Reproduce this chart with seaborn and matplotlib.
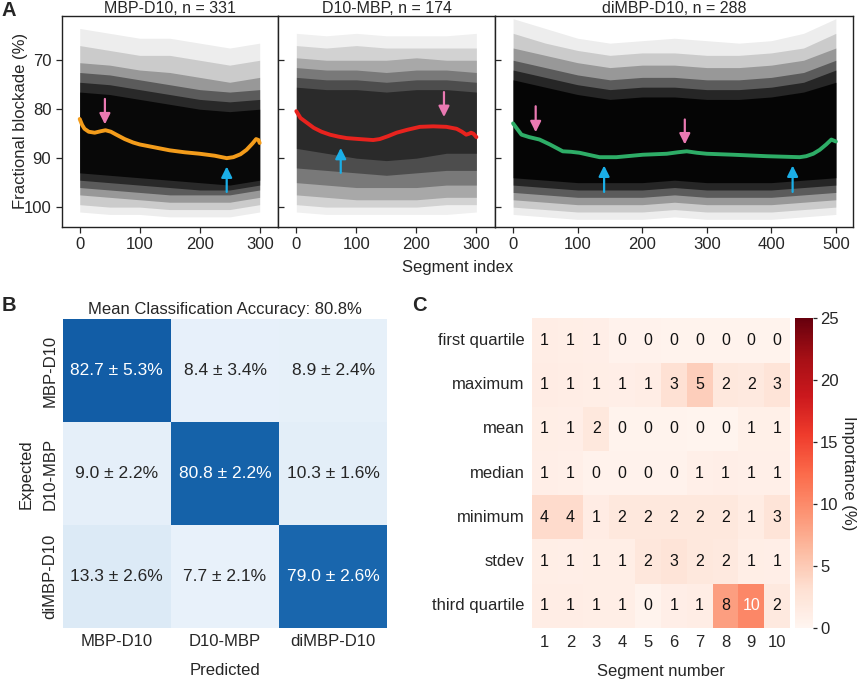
import numpy as np
import pandas as pd
import matplotlib
matplotlib.use("Agg")
import matplotlib.pyplot as plt
import seaborn as sns

# ---------------- data ----------------
# Panel A: trace-density envelopes (Fractional blockade %), outermost -> core,
# read from the picture at the x positions below
p1_x = [0, 50, 100, 150, 200, 250, 300]
p1_band_tops = [
    [63.5, 64.5, 65.5, 65.5, 66.5, 67.5, 66.5],
    [67, 68, 69, 69, 70, 71, 70],
    [70.5, 71, 72, 72.5, 73.5, 74.5, 73.5],
    [72.5, 73, 74, 75, 76, 76.5, 76],
    [74.5, 75, 76, 77, 78, 78.5, 78],
    [76.5, 77, 78, 79, 80, 80.5, 80],
]
p1_band_bots = [
    [101, 101.5, 101.5, 102, 102, 102, 101],
    [99.5, 100, 100, 100.5, 100.5, 100.5, 99.5],
    [97.5, 98, 98.5, 99, 99, 99, 98],
    [96, 96.5, 97, 97.5, 97.5, 97.5, 96.5],
    [94.5, 95, 95.5, 96, 96.5, 96.5, 95.5],
    [93, 93.5, 94, 94.5, 95, 95.5, 94.5],
]
p1_mean_x = [0, 4, 8, 15, 25, 35, 43, 52, 61, 75, 89, 100, 125, 150, 175, 200,
             225, 245, 256, 268, 278, 288, 294, 298, 300]
p1_mean_y = [82.0, 83.2, 84.0, 84.6, 84.8, 84.5, 84.3, 84.6, 85.2, 86.1, 86.8, 87.2,
             87.8, 88.4, 88.8, 89.1, 89.5, 90.0, 89.8, 89.2, 88.3, 87.0, 86.1, 86.3, 86.9]

p2_x = [0, 50, 100, 150, 200, 250, 300]
p2_band_tops = [
    [64.5, 65, 64.5, 65, 65, 65, 64.5],
    [67, 67.5, 67, 67.5, 67.5, 67.5, 67.5],
    [69.5, 70, 70, 70, 69.5, 70, 70],
    [71.5, 72, 72, 72.5, 72, 72, 72.5],
    [73.5, 74, 74, 74.5, 74, 74, 74.5],
    [75.5, 76, 76, 76.5, 76, 76, 76.5],
]
p2_band_bots = [
    [101, 101.5, 101.5, 101.5, 101.5, 101.5, 101],
    [99.5, 100, 100, 100, 100, 99.5, 99.5],
    [97.5, 98, 98.5, 98.5, 98.5, 98, 98],
    [95, 95.5, 96, 96, 96, 95.5, 95.5],
    [92, 92.5, 93, 93.5, 93, 92.5, 92.5],
    [88, 89, 90, 90.5, 90, 89, 89],
]
p2_mean_x = [0, 7, 18, 29, 42, 56, 70, 84, 105, 128, 139, 153, 167, 185, 206, 228,
             250, 267, 276, 283, 288, 291, 295, 300]
p2_mean_y = [80.4, 81.8, 82.8, 83.8, 84.6, 85.2, 85.6, 85.9, 86.1, 86.3, 86.1, 85.5,
             84.8, 84.2, 83.6, 83.5, 83.6, 84.0, 84.6, 85.2, 85.0, 84.8, 85.0, 85.7]

p3_x = [0, 50, 100, 150, 200, 250, 300, 350, 400, 450, 500]
p3_band_tops = [
    [61.5, 63.5, 65.5, 66.5, 66, 65.5, 66, 66.5, 66, 64.5, 61.5],
    [64.5, 66.5, 68, 69, 68.5, 68.5, 69, 69, 68.5, 67.5, 64.5],
    [67.5, 69, 70.5, 71.5, 71, 71, 71.5, 71.5, 71, 70, 67.5],
    [70, 71.5, 73, 74, 73.5, 73.5, 74, 74, 73.5, 72.5, 70],
    [72, 73.5, 75, 76, 75.5, 75.5, 76, 76, 75.5, 74.5, 72],
    [74, 75.5, 77, 78, 77.5, 77.5, 78, 78, 77.5, 76.5, 74.5],
]
p3_band_bots = [
    [101.5, 102, 102.5, 102.5, 102.5, 102, 102.5, 102.5, 102.5, 102, 101.5],
    [100, 100.5, 101, 101, 101, 100.5, 101, 101, 101, 100.5, 100],
    [98.5, 99, 99.5, 99.5, 99.5, 99, 99.5, 99.5, 99.5, 99, 98.5],
    [97, 97.5, 98, 98, 98, 97.5, 98, 98, 98, 97.5, 97],
    [95.5, 96, 96.5, 96.5, 96.5, 96, 96.5, 96.5, 96.5, 96, 95.5],
    [94, 94.5, 95, 95, 95, 94.5, 95, 95, 95, 94.5, 94],
]
p3_mean_x = [0, 5, 13, 25, 41, 57, 77, 90, 103, 120, 134, 160, 201, 238, 255, 269,
             285, 300, 341, 393, 444, 454, 465, 475, 485, 493, 500]
p3_mean_y = [82.9, 83.8, 85.2, 85.7, 86.2, 87.2, 88.6, 88.7, 88.9, 89.4, 89.8, 89.8,
             89.3, 89.1, 88.8, 88.6, 88.9, 89.1, 89.3, 89.6, 89.8, 89.6, 89.1, 88.3,
             87.2, 86.2, 86.6]

panel_titles = ["MBP-D10, n = 331", "D10-MBP, n = 174", "diMBP-D10, n = 288"]

# arrows: (x, tail_y, head_y)
p1_pink = [(42, 77.9, 83.1)]
p1_cyan = [(245, 96.9, 91.7)]
p2_pink = [(246, 76.5, 81.6)]
p2_cyan = [(74, 93.0, 87.9)]
p3_pink = [(35, 79.4, 84.7), (266, 82.1, 87.2)]
p3_cyan = [(141, 96.9, 91.5), (433, 96.9, 91.5)]

# Panel B: confusion matrix
cm_labels = ["MBP-D10", "D10-MBP", "diMBP-D10"]
cm_mean = [[82.7, 8.4, 8.9],
           [9.0, 80.8, 10.3],
           [13.3, 7.7, 79.0]]
cm_std = [[5.3, 3.4, 2.4],
          [2.2, 2.2, 1.6],
          [2.6, 2.1, 2.6]]

# Panel C: feature importance
features = ["first quartile", "maximum", "mean", "median", "minimum", "stdev",
            "third quartile"]
segments = [1, 2, 3, 4, 5, 6, 7, 8, 9, 10]
imp_first_quartile = [1.2, 1.1, 1.0, 0.4, 0.4, 0.3, 0.3, 0.3, 0.3, 0.3]
imp_maximum = [1.3, 1.2, 1.1, 1.0, 1.2, 3.0, 4.6, 2.0, 1.8, 2.6]
imp_mean = [1.1, 1.0, 2.0, 0.3, 0.3, 0.3, 0.2, 0.2, 0.8, 0.8]
imp_median = [1.0, 0.9, 0.4, 0.4, 0.4, 0.4, 0.9, 1.0, 0.9, 0.9]
imp_minimum = [3.6, 3.6, 1.3, 2.0, 2.0, 2.0, 2.0, 2.0, 1.4, 2.6]
imp_stdev = [1.1, 1.0, 1.1, 1.1, 2.1, 2.6, 2.0, 1.8, 1.1, 1.0]
imp_third_quartile = [1.2, 1.2, 1.1, 1.1, 0.3, 1.0, 1.2, 8.4, 10.2, 1.8]

# ---------------- style ----------------
sns.set_style("ticks")
plt.rcParams["font.family"] = ["Liberation Sans", "DejaVu Sans"]
plt.rcParams["font.size"] = 12
plt.rcParams["axes.linewidth"] = 1.0
plt.rcParams["axes.edgecolor"] = "#222222"

fig = plt.figure(figsize=(8.6, 6.8), dpi=100)

W, H = 860.0, 680.0
def rect(l, t, r, b):
    return [l / W, 1 - b / H, (r - l) / W, (b - t) / H]

axA1 = fig.add_axes(rect(61.7, 15.7, 278.3, 226.7))
axA2 = fig.add_axes(rect(278.3, 15.7, 495.0, 226.7), sharey=axA1)
axA3 = fig.add_axes(rect(495.0, 15.7, 853.3, 226.7), sharey=axA1)

line_colors = ["#F39C1B", "#E8231E", "#2EAD67"]
pink = "#EA79B2"
cyan = "#1BAEE6"

panels = [
    (axA1, p1_x, p1_band_tops, p1_band_bots, [0.07, 0.14, 0.25, 0.40, 0.55, 0.80],
     p1_mean_x, p1_mean_y, p1_pink, p1_cyan, (-30, 331), [0, 100, 200, 300]),
    (axA2, p2_x, p2_band_tops, p2_band_bots, [0.06, 0.12, 0.20, 0.28, 0.36, 0.45],
     p2_mean_x, p2_mean_y, p2_pink, p2_cyan, (-30, 331), [0, 100, 200, 300]),
    (axA3, p3_x, p3_band_tops, p3_band_bots, [0.07, 0.14, 0.25, 0.40, 0.58, 0.85],
     p3_mean_x, p3_mean_y, p3_pink, p3_cyan, (-28, 527),
     [0, 100, 200, 300, 400, 500]),
]

for i, (ax, bx, tops, bots, alphas, mx, my, pk, cy, xl, xt) in enumerate(panels):
    for top, bot, a in zip(tops, bots, alphas):
        ax.fill_between(bx, top, bot, color="black", alpha=a, linewidth=0)
    sns.lineplot(x=mx, y=my, ax=ax, color=line_colors[i], linewidth=2.8,
                 sort=False, estimator=None)
    for (x, y0, y1) in pk:
        ax.annotate("", xy=(x, y1), xytext=(x, y0),
                    arrowprops=dict(arrowstyle="-|>", color=pink, lw=1.6,
                                    mutation_scale=16, shrinkA=0, shrinkB=0))
    for (x, y0, y1) in cy:
        ax.annotate("", xy=(x, y1), xytext=(x, y0),
                    arrowprops=dict(arrowstyle="-|>", color=cyan, lw=1.6,
                                    mutation_scale=16, shrinkA=0, shrinkB=0))
    ax.set_xlim(*xl)
    ax.set_xticks(xt)
    ax.set_title(panel_titles[i], fontsize=11.5, pad=0, y=1.011, va="baseline")
    ax.tick_params(labelsize=12, length=4, width=0.9)

axA1.set_ylim(104.0, 60.9)
axA1.set_yticks([70, 80, 90, 100])
axA1.set_ylabel("Fractional blockade (%)", fontsize=12, labelpad=-3)
for ax in (axA2, axA3):
    ax.tick_params(axis="y", direction="in", labelleft=False, length=4)
fig.text(457.5 / W, 1 - 268 / H, "Segment index", ha="center", va="center",
         fontsize=12)

# ---------------- Panel B ----------------
axB = fig.add_axes(rect(62.7, 319.3, 387.3, 628.3))
cm_df = pd.DataFrame(cm_mean, index=cm_labels, columns=cm_labels)
annot_b = np.array([[f"{m:.1f} ± {s:.1f}%" for m, s in zip(rm, rs)]
                    for rm, rs in zip(cm_mean, cm_std)])
sns.heatmap(cm_df, ax=axB, cmap="Blues", vmin=0, vmax=100, annot=annot_b,
            fmt="", cbar=False, annot_kws={"size": 12.5})
axB.set_title("Mean Classification Accuracy: 80.8%", fontsize=12, pad=4)
axB.set_xlabel("Predicted", fontsize=12, labelpad=10)
axB.set_ylabel("Expected", fontsize=12, labelpad=6)
axB.tick_params(length=0, labelsize=12, pad=4)
plt.setp(axB.get_yticklabels(), rotation=90, va="center")
plt.setp(axB.get_xticklabels(), rotation=0)

# ---------------- Panel C ----------------
axC = fig.add_axes(rect(531.7, 318.3, 790.0, 627.7))
caxC = fig.add_axes(rect(795.0, 318.3, 813.3, 627.7))
imp_df = pd.DataFrame([imp_first_quartile, imp_maximum, imp_mean, imp_median,
                       imp_minimum, imp_stdev, imp_third_quartile],
                      index=features, columns=segments)
sns.heatmap(imp_df, ax=axC, cmap="Reds", vmin=0, vmax=25, annot=True, fmt=".0f",
            cbar_ax=caxC, annot_kws={"size": 11.5},
            cbar_kws={"ticks": [0, 5, 10, 15, 20, 25]})
for t in axC.texts:
    if t.get_text() == "10":
        t.set_color("white")
    else:
        t.set_color("#111111")
axC.set_xlabel("Segment number", fontsize=12, labelpad=10)
axC.set_ylabel("")
axC.tick_params(length=0, labelsize=12, pad=5)
plt.setp(axC.get_yticklabels(), rotation=0)
plt.setp(axC.get_xticklabels(), rotation=0)
caxC.tick_params(labelsize=12, length=3, width=0.9, pad=2)
caxC.set_ylabel("Importance (%)", rotation=270, fontsize=12, labelpad=12)

# panel letters
fig.text(2 / W, 1 - 11 / H, "A", fontsize=14.5, fontweight="bold", va="center")
fig.text(2 / W, 1 - 306 / H, "B", fontsize=14.5, fontweight="bold", va="center")
fig.text(412 / W, 1 - 306 / H, "C", fontsize=14.5, fontweight="bold", va="center")

fig.savefig("out.png", dpi=100)
